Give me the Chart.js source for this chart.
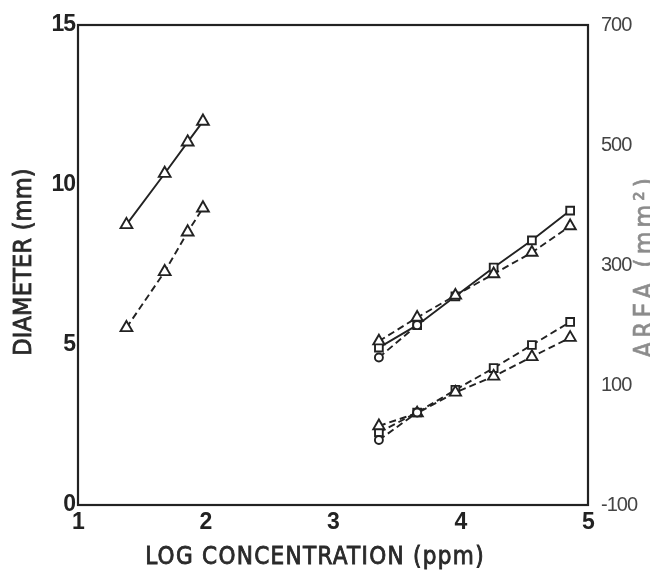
<!DOCTYPE html>
<html><head><meta charset="utf-8">
<script src="https://cdn.jsdelivr.net/npm/chart.js@4.4.1/dist/chart.umd.min.js"></script>
<style>html,body{margin:0;padding:0;background:#fff;}#wrap{width:650px;height:577px;}</style>
</head><body><div id="wrap"><canvas id="c" width="650" height="577"></canvas></div>
<script>
// ---- data ----
const xLow = [1.38, 1.68, 1.86, 1.98];
const lowSolidTriangles = [8.76, 10.36, 11.34, 11.99];
const lowDashedTriangles = [5.54, 7.29, 8.53, 9.28];

const xHigh = [3.36, 3.66, 3.96, 4.26, 4.56, 4.86];
const upperSolidSquares = [4.92, 5.62, 6.52, 7.42, 8.27, 9.20];
const upperDashedTriangles = [5.12, 5.86, 6.55, 7.22, 7.89, 8.72];
const xCircle = [3.36, 3.66];
const upperCircles = [4.61, 5.62];
const lowerDashedSquares = [2.27, 2.89, 3.60, 4.28, 5.00, 5.72];
const lowerDashedTriangles = [2.47, 2.87, 3.52, 4.02, 4.63, 5.23];
const lowerCircles = [2.03, 2.89];

const xTicks = [1, 2, 3, 4, 5];
const yTicks = [0, 5, 10, 15];
const areaTicks = [-100, 100, 300, 500, 700];

const xTitle = 'LOG CONCENTRATION (ppm)';
const yTitle = 'DIAMETER (mm)';
const y1Title = 'AREA (mm\u00B2)';

// ---- build ----
const INK = '#222';
function pts(xs, ys) { return ys.map((v, i) => ({x: xs[i], y: v})); }
function ds(xs, ys, style, dashed, r) {
  return {
    data: pts(xs, ys), showLine: true, borderColor: INK, borderWidth: 1.9,
    borderDash: dashed ? [7, 4] : [], pointStyle: style, pointRadius: r,
    pointBorderWidth: 1.9, pointBackgroundColor: '#fff', pointBorderColor: INK,
    fill: false, tension: 0
  };
}
const datasets = [
  ds(xLow, lowSolidTriangles, 'triangle', false, 6.8),
  ds(xLow, lowDashedTriangles, 'triangle', true, 6.8),
  ds(xCircle, upperCircles, 'circle', true, 4),
  ds(xCircle, lowerCircles, 'circle', true, 4),
  ds(xHigh, upperDashedTriangles, 'triangle', true, 6.5),
  ds(xHigh, upperSolidSquares, 'rect', false, 5.5),
  ds(xHigh, lowerDashedTriangles, 'triangle', true, 6.5),
  ds(xHigh, lowerDashedSquares, 'rect', true, 5.5)
];

function spacedText(ctx, text, x, y, rot, font, spacing, color, stroke) {
  ctx.save();
  ctx.translate(x, y);
  if (rot) ctx.rotate(rot);
  ctx.font = font;
  ctx.letterSpacing = spacing + 'px';
  ctx.fillStyle = color;
  ctx.textAlign = 'center'; ctx.textBaseline = 'middle';
  ctx.fillText(text, 0, 0);
  if (stroke) {
    ctx.strokeStyle = color; ctx.lineWidth = stroke;
    ctx.strokeText(text, 0, 0);
  }
  ctx.restore();
}

const frame = {
  id: 'frame',
  beforeDraw(chart) { chart.ctx.letterSpacing = '-1px'; },
  beforeDatasetsDraw(chart) { chart.ctx.letterSpacing = '0px'; },
  afterDraw(chart) {
    const {ctx, chartArea: a} = chart;
    ctx.save();
    ctx.letterSpacing = '0px';
    ctx.strokeStyle = INK; ctx.lineWidth = 2.2;
    ctx.strokeRect(a.left, a.top, a.right - a.left, a.bottom - a.top);
    ctx.restore();
    const tf = '"DejaVu Sans Condensed", "DejaVu Sans", sans-serif';
    spacedText(ctx, xTitle, 315, 558, 0, '24px ' + tf, 1.3, '#2a2a2a', 0.8);
    spacedText(ctx, yTitle, 24, 262, -Math.PI / 2, '25px ' + tf, 0.2, '#2a2a2a', 0.8);
    spacedText(ctx, y1Title, 646, 266, -Math.PI / 2, '26px ' + tf, 4, '#8c8c8c', 0.6);
  }
};

const tickFontL = {family: '"Liberation Sans", Arial, sans-serif', size: 23, weight: 'bold'};
const tickFontR = {family: '"Liberation Sans", Arial, sans-serif', size: 20};

new Chart(document.getElementById('c'), {
  type: 'scatter',
  data: {datasets},
  plugins: [frame],
  options: {
    responsive: false, animation: false, events: [],
    layout: {padding: {top: 20, left: 0, right: 0, bottom: 0}},
    plugins: {legend: {display: false}, tooltip: {enabled: false}},
    scales: {
      x: {
        type: 'linear', min: 1, max: 5,
        afterBuildTicks(s) { s.ticks = xTicks.map(v => ({value: v})); },
        afterFit(s) { s.height = 72; },
        grid: {display: false, drawTicks: false}, border: {display: false},
        ticks: {font: tickFontL, color: INK, padding: 4, maxRotation: 0},
        title: {display: false, text: xTitle}
      },
      y: {
        type: 'linear', position: 'left', min: 0, max: 15,
        afterBuildTicks(s) { s.ticks = yTicks.map(v => ({value: v})); },
        afterFit(s) { s.width = 78; },
        grid: {display: false, drawTicks: false}, border: {display: false},
        ticks: {font: tickFontL, color: INK, padding: 3},
        title: {display: false, text: yTitle}
      },
      y1: {
        type: 'linear', position: 'right', min: -100, max: 700,
        afterBuildTicks(s) { s.ticks = areaTicks.map(v => ({value: v})); },
        afterFit(s) { s.width = 62; },
        grid: {display: false, drawTicks: false}, border: {display: false},
        ticks: {font: tickFontR, color: '#444', padding: 13}
      }
    }
  }
});
</script></body></html>
